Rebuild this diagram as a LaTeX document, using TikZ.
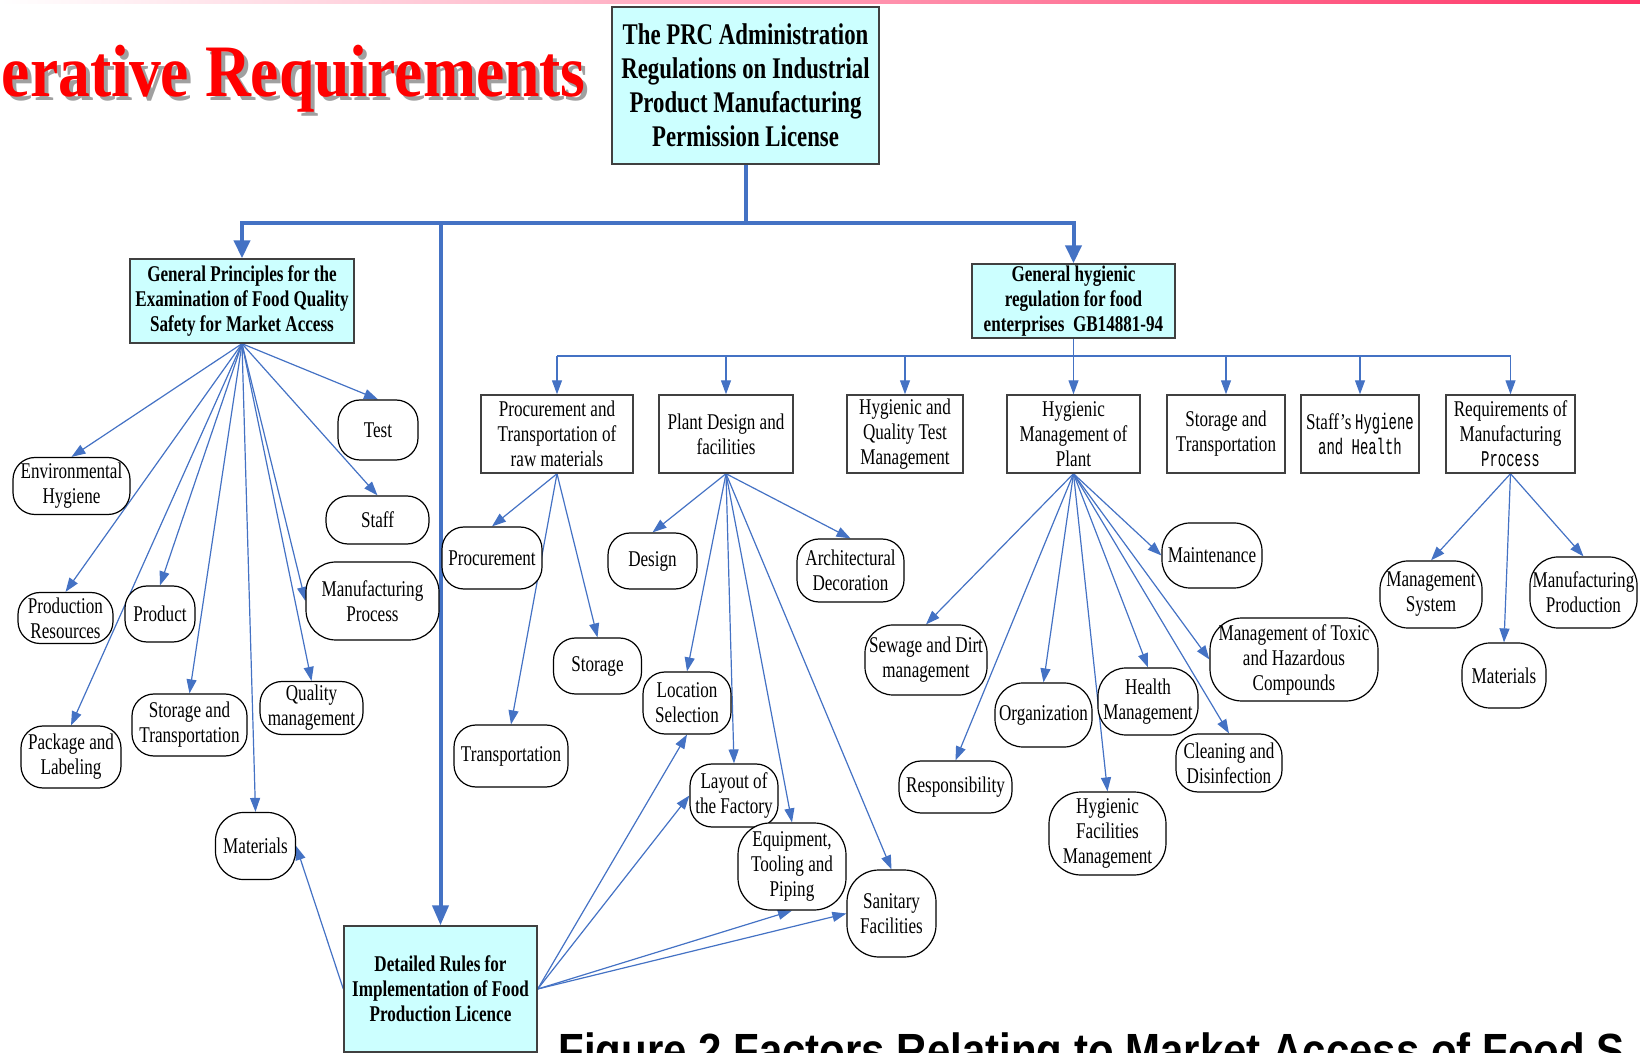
\documentclass[tikz,border=0pt]{standalone}
\usepackage{fontspec}
\usetikzlibrary{arrows.meta,backgrounds}
\newfontfamily\nf[FakeStretch=0.76]{Liberation Serif}
\newfontfamily\mf[FakeStretch=0.62]{Liberation Mono}
\newfontfamily\tf[FakeStretch=0.86]{Liberation Serif}
\newfontfamily\cf[FakeStretch=0.875]{Liberation Sans}
\definecolor{lineblue}{HTML}{4472C4}
\definecolor{cyanbg}{HTML}{CCFFFF}
\definecolor{boxgray}{HTML}{404040}
\definecolor{bandred}{HTML}{FF3366}
\definecolor{titlered}{HTML}{FF0000}
\definecolor{shadowgray}{HTML}{A0A0A0}
\newcommand{\nodefont}{\nf\fontsize{11.25}{12.5}\selectfont}
\newcommand{\bnodefont}{\nf\bfseries\fontsize{11.25}{12.5}\selectfont}
\newcommand{\topfont}{\nf\bfseries\fontsize{15}{17}\selectfont}
\tikzset{
  sz/.style 2 args={minimum width=#1*0.5pt, minimum height=#2*0.5pt},
  rbox/.style={draw=black, line width=0.6pt, rounded corners=11pt, fill=white, inner sep=0pt, align=center, font=\nodefont},
  sbox/.style={draw=boxgray, line width=0.7pt, fill=white, inner sep=0pt, align=center, font=\nodefont},
  cbox/.style={draw=boxgray, line width=0.7pt, fill=cyanbg, inner sep=0pt, align=center, font=\bnodefont},
  arr/.style={draw=lineblue, line width=0.6pt, -{Triangle[length=7pt,width=5pt]}},
  thinline/.style={draw=lineblue, line width=0.6pt},
  bigline/.style={draw=lineblue, line width=2pt},
  bigarr/.style={draw=lineblue, line width=2pt, -{Triangle[length=10pt,width=8pt]}},
}
\begin{document}
\begin{tikzpicture}[x=0.5pt,y=-0.5pt]
\useasboundingbox (0,0) rectangle (1640,1053);
\clip (0,0) rectangle (1640,1053);
\shade[left color=white, right color=bandred] (0,0) rectangle (1640,4);

% title and caption
\node[anchor=base east, inner sep=0pt, text=shadowgray, font=\tf\bfseries\fontsize{37}{40}\selectfont] (titleshadow) at (590,101) {erative Requirements};
\node[anchor=base east, inner sep=0pt, text=titlered, font=\tf\bfseries\fontsize{37}{40}\selectfont] (title) at (586,97) {erative Requirements};
\node[anchor=base west, inner sep=0pt, font=\cf\bfseries\fontsize{24}{28}\selectfont] (caption) at (558,1067) {Figure 2 Factors Relating to Market Access of Food S};

% main boxes
\node[cbox, font=\topfont, sz={267}{157}] (top) at (745.5,85.5) {The PRC Administration\\Regulations on Industrial\\Product Manufacturing\\Permission License};
\node[cbox, sz={224}{84}] (GP) at (242,301) {General Principles for the\\Examination of Food Quality\\Safety for Market Access};
\node[cbox, sz={203}{74}] (GH) at (1073.5,301) {General hygienic\\regulation for food\\enterprises~~GB14881-94};
\node[cbox, sz={193}{126}] (DR) at (440.5,989) {Detailed Rules for\\Implementation of Food\\Production Licence};

% second row boxes
\node[sbox, sz={152}{78}] (PT) at (557,434) {Procurement and\\Transportation of\\raw materials};
\node[sbox, sz={134}{78}] (PD) at (726,434) {Plant Design and\\facilities};
\node[sbox, sz={116}{78}] (HQ) at (905,434) {Hygienic and\\Quality Test\\Management};
\node[sbox, sz={133}{78}] (HM) at (1073.5,434) {Hygienic\\Management of\\Plant};
\node[sbox, sz={118}{78}] (ST) at (1226,434) {Storage and\\Transportation};
\node[sbox, sz={118}{78}] (SH) at (1360,434) {Staff’s\,{\mf Hygiene}\\{\mf and Health}};
\node[sbox, sz={129}{78}] (RM) at (1510.5,434) {Requirements of\\Manufacturing\\{\mf Process}};

% GP children
\node[rbox, sz={80}{60}] (test) at (378,430) {Test};
\node[rbox, sz={117}{57}] (env) at (71.5,486) {Environmental\\Hygiene};
\node[rbox, sz={103}{48}] (staff) at (377.5,520) {Staff};
\node[rbox, sz={95}{51}] (prodres) at (65.5,618) {Production\\Resources};
\node[rbox, sz={70}{56}] (product) at (160,614) {Product};
\node[rbox, rounded corners=15pt, sz={133}{78}] (manproc) at (372.5,601) {Manufacturing\\Process};
\node[rbox, sz={100}{62}] (pack) at (71,757) {Package and\\Labeling};
\node[rbox, sz={115}{62}] (stortr) at (189.5,725) {Storage and\\Transportation};
\node[rbox, sz={103}{53}] (quality) at (311.5,708) {Quality\\management};
\node[rbox, rounded corners=14pt, sz={80}{67}] (matA) at (255.5,846) {Materials};

% PT children
\node[rbox, sz={100}{62}] (procure) at (492,558) {Procurement};
\node[rbox, sz={88}{56}] (storage) at (597.5,666) {Storage};
\node[rbox, sz={114}{62}] (transp) at (511,756) {Transportation};

% PD children
\node[rbox, sz={89}{56}] (design) at (652.5,561) {Design};
\node[rbox, sz={107}{63}] (arch) at (850.5,570.5) {Architectural\\Decoration};
\node[rbox, sz={88}{62}] (loc) at (687,703) {Location\\Selection};
\node[rbox, sz={88}{63}] (layout) at (734,795.5) {Layout of\\the Factory};
\node[rbox, rounded corners=16pt, sz={108}{87}] (equip) at (792,866.5) {Equipment,\\Tooling and\\Piping};
\node[rbox, rounded corners=16pt, sz={89}{87}] (sanit) at (891.5,913.5) {Sanitary\\Facilities};

% HM children
\node[rbox, rounded corners=14pt, sz={100}{65}] (maint) at (1212,555.5) {Maintenance};
\node[rbox, rounded corners=14pt, sz={122}{70}] (sewage) at (926,660) {Sewage and Dirt\\management};
\node[rbox, rounded corners=16pt, sz={168}{83}] (toxic) at (1294,659.5) {Management of Toxic\\and Hazardous\\Compounds};
\node[rbox, rounded corners=14pt, sz={97}{64}] (org) at (1043.5,715) {Organization};
\node[rbox, rounded corners=14pt, sz={100}{67}] (health) at (1148,701.5) {Health\\Management};
\node[rbox, sz={106}{58}] (clean) at (1229,763) {Cleaning and\\Disinfection};
\node[rbox, sz={113}{52}] (resp) at (955.5,787) {Responsibility};
\node[rbox, rounded corners=16pt, sz={117}{83}] (hygfac) at (1107.5,833.5) {Hygienic\\Facilities\\Management};

% RM children
\node[rbox, rounded corners=14pt, sz={102}{67}] (msys) at (1431,594.5) {Management\\System};
\node[rbox, rounded corners=14pt, sz={107}{71}] (mprod) at (1583.5,592.5) {Manufacturing\\Production};
\node[rbox, rounded corners=14pt, sz={84}{65}] (matB) at (1504,675.5) {Materials};

\coordinate (hL) at (242,223);
\coordinate (hR) at (1073.5,223);
\coordinate (hM) at (440.5,223);
\coordinate (gL) at (557,356);
\coordinate (gR) at (1510.5,356);

\begin{scope}[on background layer]
% thick connectors
\draw[bigline] (top.south) -- (top.south |- hL);
\draw[bigline, {Triangle[length=9pt,width=8pt]}-{Triangle[length=9pt,width=8pt]}] (GP.north) -- (hL) -- (hR) -- (GH.north);
\draw[bigarr] (hM) -- (DR.north);

% GH bar
\draw[thinline] (gL) -- (gR);
\draw[arr] (GH.south) -- (HM.north);
\draw[arr] (PT.north |- gL) -- (PT.north);
\draw[arr] (PD.north |- gL) -- (PD.north);
\draw[arr] (HQ.north |- gL) -- (HQ.north);
\draw[arr] (ST.north |- gL) -- (ST.north);
\draw[arr] (SH.north |- gL) -- (SH.north);
\draw[arr] (RM.north |- gL) -- (RM.north);

% GP fan
\foreach \t in {test,env,prodres,product,staff,pack,stortr,quality,matA}
  \draw[arr] (GP.south) -- (\t.north);
\draw[arr] (GP.south) -- (manproc.west);

% PT fan
\foreach \t in {procure,storage,transp}
  \draw[arr] (PT.south) -- (\t.north);

% PD fan
\foreach \t in {design,arch,loc,layout,equip,sanit}
  \draw[arr] (PD.south) -- (\t.north);

% DR fan
\draw[arr] (DR.east) -- (loc.south);
\draw[arr] (DR.east) -- (layout.west);
\draw[arr] (DR.east) -- (equip.south);
\draw[arr] (DR.east) -- (sanit.west);
\draw[arr] (DR.west) -- (matA.east);

% HM fan
\draw[arr] (HM.south) -- (maint.west);
\draw[arr] (HM.south) -- (toxic.west);
\foreach \t in {sewage,org,health,clean,resp,hygfac}
  \draw[arr] (HM.south) -- (\t.north);

% RM fan
\foreach \t in {msys,mprod,matB}
  \draw[arr] (RM.south) -- (\t.north);
\end{scope}
\end{tikzpicture}
\end{document}
